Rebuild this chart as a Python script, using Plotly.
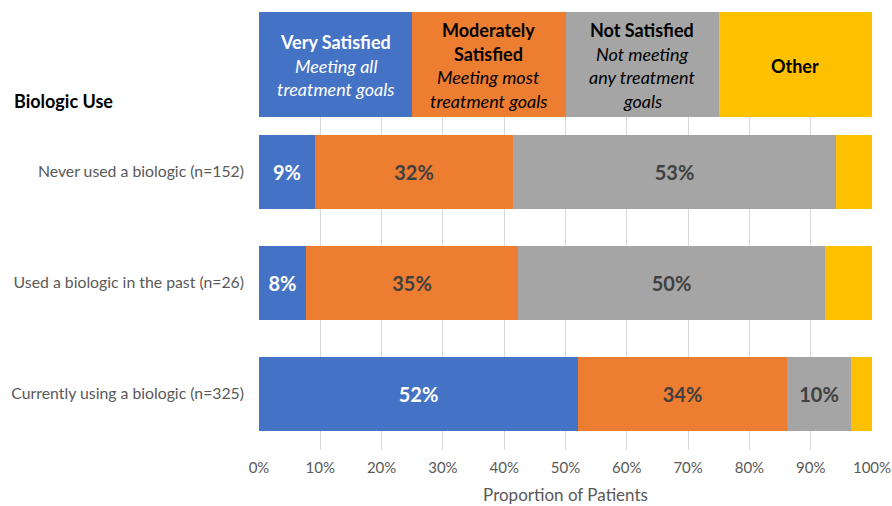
import plotly.graph_objects as go

# Data (bottom-to-top order)
categories = ["Currently using a biologic (n=325)",
              "Used a biologic in the past (n=26)",
              "Never used a biologic (n=152)"]
very_satisfied = [52.0, 7.7, 9.1]
moderately_satisfied = [34.1, 34.6, 32.3]
not_satisfied = [10.4, 50.0, 52.7]
other = [3.5, 7.7, 5.9]

series_names = ["Very Satisfied", "Moderately Satisfied", "Not Satisfied", "Other"]
series_values = [very_satisfied, moderately_satisfied, not_satisfied, other]
colors = ["#4472C4", "#ED7D31", "#A5A5A5", "#FFC000"]
label_colors = ["white", "#404040", "#404040", None]

header_shares = [25, 25, 25, 25]
header_lines = [
    ["<b>Very Satisfied</b>", "<i>Meeting all</i>", "<i>treatment goals</i>"],
    ["<b>Moderately</b>", "<b>Satisfied</b>", "<i>Meeting most</i>", "<i>treatment goals</i>"],
    ["<b>Not Satisfied</b>", "<i>Not meeting</i>", "<i>any treatment</i>", "<i>goals</i>"],
    ["<b>Other</b>"],
]
header_text_colors = ["white", "black", "black", "black"]

x_ticks = [0, 10, 20, 30, 40, 50, 60, 70, 80, 90, 100]
x_ticktext = [f"{t}%" for t in x_ticks]

FONT = "Lato"
row_pos = [0, 1, 2]
header_pos = 2.97

fig = go.Figure()
for name, vals, col, lc in zip(series_names, series_values, colors, label_colors):
    fig.add_trace(go.Bar(
        y=row_pos, x=vals, orientation="h", name=name,
        marker=dict(color=col, line=dict(width=0)),
        width=0.66,
        text=[f"{round(v)}%" for v in vals] if lc else None,
        textposition="inside" if lc else "none",
        insidetextanchor="middle",
        textangle=0,
        textfont=dict(family=FONT, size=20, color=lc if lc else "black", weight="bold"),
        showlegend=False,
    ))

# header row
for share, col in zip(header_shares, colors):
    fig.add_trace(go.Bar(
        y=[header_pos], x=[share], orientation="h",
        marker=dict(color=col, line=dict(width=0)),
        width=0.95, showlegend=False, hoverinfo="skip",
    ))

annotations = []
cum = 0
for share, lines, tc in zip(header_shares, header_lines, header_text_colors):
    cx = cum + share / 2
    cum += share
    n = len(lines)
    for i, line in enumerate(lines):
        off = (n - 1) / 2 - i
        annotations.append(dict(
            x=cx, y=header_pos, xref="x", yref="y", text=line, showarrow=False,
            yshift=off * 23.5 - 1.5,
            font=dict(family=FONT, size=18, color=tc),
        ))

annotations.append(dict(
    x=(12 - 259) / 613, y=(450 - 101) / 438, xref="paper", yref="paper",
    text="<b>Biologic Use</b>", showarrow=False,
    xanchor="left", yanchor="middle",
    font=dict(family=FONT, size=18, color="black"),
))

fig.update_layout(
    barmode="stack",
    width=892, height=506,
    margin=dict(l=259, r=20, t=12, b=56, autoexpand=False),
    paper_bgcolor="white", plot_bgcolor="white",
    bargap=0,
    annotations=annotations,
    font=dict(family=FONT, color="#595959", size=15),
    xaxis=dict(
        range=[0, 100], tickvals=x_ticks, ticktext=x_ticktext,
        showgrid=True, gridcolor="#D9D9D9", gridwidth=1,
        zeroline=False, showline=False, automargin=False,
        tickfont=dict(family=FONT, size=15, color="#595959"),
        ticklabelstandoff=7,
        title=dict(text="Proportion of Patients", font=dict(family=FONT, size=17, color="#595959"), standoff=14),
        fixedrange=True,
    ),
    yaxis=dict(
        range=[-0.505, 3.44], tickvals=row_pos, ticktext=categories,
        showgrid=False, zeroline=False, showline=False, automargin=False,
        tickfont=dict(family=FONT, size=15.8, color="#595959"),
        ticklabelstandoff=14,
        fixedrange=True,
    ),
)

fig.write_html("out.html")
